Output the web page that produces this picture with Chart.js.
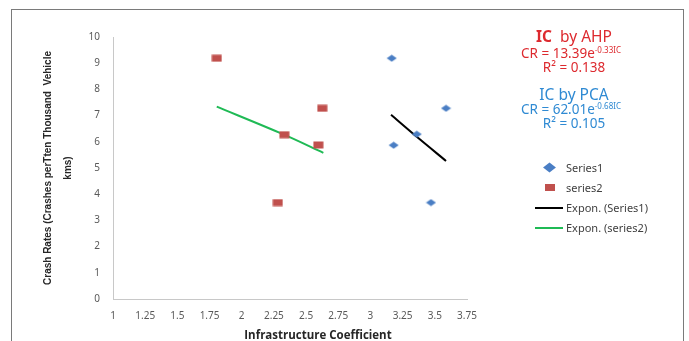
<!DOCTYPE html>
<html lang="en">
<head>
    <meta charset="UTF-8">
    <title>Crash rates vs infrastructure coefficient</title>
    <script src="https://cdn.jsdelivr.net/npm/chart.js@4.4.1/dist/chart.umd.min.js"></script>
    <style>
        body {
            margin: 0;
            padding: 0;
            background: #fff;
            font-family: 'Noto Sans', sans-serif;
        }
        .wrap {
            position: relative;
            width: 689px;
            height: 341px;
            overflow: hidden;
        }
        .frame {
            position: absolute;
            left: 11px;
            top: 9px;
            width: 671px;
            height: 360px;
            border: 1px solid #7a7a7a;
            pointer-events: none;
            z-index: 5;
        }
        .chart-box {
            position: absolute;
            left: 0;
            top: 0;
            width: 689px;
            height: 341px;
        }
        .note {
            position: absolute;
            width: 160px;
            text-align: center;
            white-space: nowrap;
            line-height: 1;
        }
        .note sup { font-size: 8px; vertical-align: 5px; }
        .red { color: #dd2a2f; }
        .blue { color: #2f8ad3; }
        .head { font-size: 15.5px; }
        .sub { font-size: 13.5px; }
        .xtitle {
            position: absolute;
            left: 232px;
            top: 327px;
            width: 172px;
            text-align: center;
            font-family: 'Open Sans', sans-serif;
            font-weight: bold;
            font-size: 11.5px;
            color: #262626;
            white-space: nowrap;
        }
        .legend {
            position: absolute;
            left: 530px;
            top: 158px;
            font-size: 11px;
            color: #404040;
        }
        .legend div {
            position: relative;
            height: 20px;
            line-height: 20px;
            padding-left: 36px;
        }
        .legend i {
            position: absolute;
            display: block;
        }
        .mk-dia { left: 16px; top: 6px; width: 7px; height: 7px; background: #4a7ec4; transform: scaleX(1.3) rotate(45deg); }
        .mk-sq { left: 15px; top: 6px; width: 10px; height: 7px; background: #c0504d; }
        .mk-ln { left: 5px; top: 9px; width: 28px; height: 2px; }
    </style>
</head>
<body>
<div class="wrap">
    <div class="chart-box"><canvas id="chart"></canvas></div>
    <div class="frame"></div>

    <div class="note red head" style="left:494px; top:29px;"><b>IC</b>&nbsp; by AHP</div>
    <div class="note red sub" style="left:491px; top:46px;">CR = 13.39e<sup>-0.33IC</sup></div>
    <div class="note red sub" style="left:494px; top:61px;">R² = 0.138</div>
    <div class="note blue head" style="left:494px; top:87px;">IC by PCA</div>
    <div class="note blue sub" style="left:491px; top:102px;">CR = 62.01e<sup>-0.68IC</sup></div>
    <div class="note blue sub" style="left:494px; top:117px;">R² = 0.105</div>

    <div class="legend">
        <div><i class="mk-dia"></i>Series1</div>
        <div><i class="mk-sq"></i>series2</div>
        <div><i class="mk-ln" style="background:#000;"></i>Expon. (Series1)</div>
        <div><i class="mk-ln" style="background:#1fba55;"></i>Expon. (series2)</div>
    </div>

    <div class="xtitle">Infrastructure Coefficient</div>
</div>

<script>
    // data
    const series1X = [3.165, 3.587, 3.36, 3.18, 3.47];
    const series1Y = [9.19, 7.28, 6.29, 5.87, 3.68];
    const series2X = [1.806, 2.626, 2.331, 2.595, 2.28];
    const series2Y = [9.19, 7.28, 6.27, 5.88, 3.68];
    const trend1X = [3.16, 3.36, 3.587];
    const trend1Y = [7.03, 6.19, 5.27];
    const trend2X = [1.806, 2.32, 2.634];
    const trend2Y = [7.34, 6.29, 5.58];
    const yTitle = ['Crash Rates (Crashes perTten Thousand  Vehicle', 'kms)'];

    const pairs = (xs, ys) => xs.map((x, i) => ({ x: x, y: ys[i] }));

    // marker images (the original markers are a bit wider than tall)
    function marker(kind, color) {
        const c = document.createElement('canvas');
        c.width = 11;
        c.height = 8;
        const g = c.getContext('2d');
        g.fillStyle = color;
        if (kind === 'diamond') {
            g.beginPath();
            g.moveTo(5.5, 0.5);
            g.lineTo(10.5, 4);
            g.lineTo(5.5, 7.5);
            g.lineTo(0.5, 4);
            g.closePath();
            g.fill();
        } else {
            g.fillRect(0.5, 0.5, 10, 7);
        }
        return c;
    }

    const tickFont = { family: 'Noto Sans', size: 10 };

    new Chart(document.getElementById('chart'), {
        type: 'scatter',
        data: {
            datasets: [
                {
                    label: 'Series1',
                    data: pairs(series1X, series1Y),
                    pointStyle: marker('diamond', '#4a7ec4'),
                    backgroundColor: '#4a7ec4'
                },
                {
                    label: 'series2',
                    data: pairs(series2X, series2Y),
                    pointStyle: marker('square', '#c0504d'),
                    backgroundColor: '#c0504d'
                },
                {
                    label: 'Expon. (Series1)',
                    type: 'line',
                    data: pairs(trend1X, trend1Y),
                    borderColor: '#000000',
                    borderWidth: 2,
                    pointRadius: 0,
                    tension: 0.3,
                    fill: false
                },
                {
                    label: 'Expon. (series2)',
                    type: 'line',
                    data: pairs(trend2X, trend2Y),
                    borderColor: '#1fba55',
                    borderWidth: 2,
                    pointRadius: 0,
                    tension: 0.3,
                    fill: false
                }
            ]
        },
        options: {
            responsive: true,
            maintainAspectRatio: false,
            animation: false,
            layout: {
                padding: { left: 0, right: 222, top: 37, bottom: 0 }
            },
            plugins: {
                legend: { display: false },
                tooltip: { enabled: false }
            },
            scales: {
                x: {
                    type: 'linear',
                    min: 1,
                    max: 3.75,
                    afterFit: (s) => { s.height = 42; },
                    grid: { color: 'transparent', drawTicks: false },
                    border: { color: '#c8c8c8', width: 1 },
                    ticks: {
                        stepSize: 0.25,
                        padding: 11,
                        color: '#595959',
                        font: tickFont,
                        maxRotation: 0,
                        autoSkip: false,
                        callback: (v) => String(Math.round(v * 100) / 100)
                    }
                },
                y: {
                    min: 0,
                    max: 10,
                    afterFit: (s) => { s.width = 113; },
                    grid: { color: 'transparent', drawTicks: false },
                    border: { color: '#c8c8c8', width: 1 },
                    ticks: {
                        stepSize: 1,
                        padding: 13,
                        color: '#595959',
                        font: tickFont
                    },
                    title: {
                        display: true,
                        text: yTitle,
                        color: '#262626',
                        font: { family: 'Liberation Sans', size: 10, weight: 'bold', lineHeight: 2 },
                        padding: { top: 38, bottom: 0 }
                    }
                }
            }
        }
    });
</script>
</body>
</html>
